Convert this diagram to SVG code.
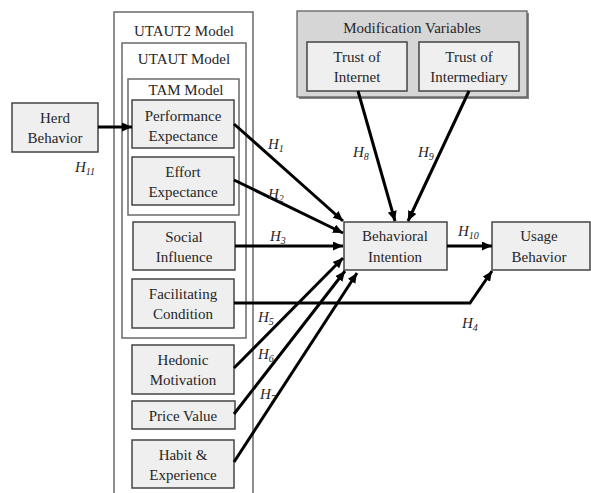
<svg xmlns="http://www.w3.org/2000/svg" width="591" height="493" viewBox="0 0 591 493">
<style>
.bx{fill:#efefef;stroke:#444;stroke-width:1.5}
.frame{fill:none;stroke:#6a6a6a;stroke-width:1.5}
text{font-family:"Liberation Serif","DejaVu Serif",serif;font-size:15px;fill:#262626;text-anchor:middle}
.h{font-style:italic;font-size:15px;text-anchor:start}
.s{font-size:10px}
.c{fill:none;stroke:#000;stroke-width:3;marker-end:url(#ah)}
</style>
<defs>
<marker id="ah" markerUnits="userSpaceOnUse" markerWidth="11" markerHeight="9" refX="10" refY="4.5" orient="auto">
<path d="M0,0 L10,4.5 L0,9 z" fill="#000"/>
</marker>
</defs>
<rect width="591" height="493" fill="#fff"/>
<g font-family="Liberation Serif, serif">
<g id="utaut2">
<rect class="frame" x="114" y="12" width="139" height="495"/>
<text x="184" y="36">UTAUT2 Model</text>
</g>
<g id="utaut">
<rect class="frame" x="122" y="43" width="124" height="295"/>
<text x="184" y="64">UTAUT Model</text>
</g>
<g id="tam">
<rect class="frame" x="128" y="79" width="111" height="136"/>
<text x="186" y="95">TAM Model</text>
</g>
<g id="modvars">
<rect x="299" y="13" width="230" height="86" fill="#888"/>
<rect x="297" y="11" width="230" height="86" fill="#d6d6d6" stroke="#555" stroke-width="1.2"/>
<text x="412" y="33">Modification Variables</text>
</g>
<g id="trust-internet">
<rect class="bx" x="307" y="42" width="100" height="49"/>
<text x="357" y="62">Trust of</text>
<text x="357" y="82">Internet</text>
</g>
<g id="trust-intermediary">
<rect class="bx" x="419" y="42" width="100" height="49"/>
<text x="469" y="62">Trust of</text>
<text x="469" y="82">Intermediary</text>
</g>
<g id="herd">
<rect class="bx" x="12" y="103" width="86" height="49"/>
<text x="55" y="123">Herd</text>
<text x="55" y="143">Behavior</text>
</g>
<g id="pe">
<rect class="bx" x="132" y="100" width="102" height="48"/>
<text x="183" y="121">Performance</text>
<text x="183" y="141">Expectance</text>
</g>
<g id="ee">
<rect class="bx" x="132" y="157" width="102" height="48"/>
<text x="183" y="177">Effort</text>
<text x="183" y="197">Expectance</text>
</g>
<g id="si">
<rect class="bx" x="133" y="222" width="102" height="48"/>
<text x="184" y="242">Social</text>
<text x="184" y="262">Influence</text>
</g>
<g id="fc">
<rect class="bx" x="132" y="279" width="102" height="49"/>
<text x="183" y="299">Facilitating</text>
<text x="183" y="319">Condition</text>
</g>
<g id="hm">
<rect class="bx" x="132" y="345" width="102" height="49"/>
<text x="183" y="365">Hedonic</text>
<text x="183" y="385">Motivation</text>
</g>
<g id="pv">
<rect class="bx" x="132" y="401" width="103" height="28"/>
<text x="183" y="421">Price Value</text>
</g>
<g id="he">
<rect class="bx" x="132" y="440" width="102" height="48"/>
<text x="183" y="460">Habit &amp;</text>
<text x="183" y="480">Experience</text>
</g>
<g id="bi">
<rect class="bx" x="344" y="222" width="103" height="48"/>
<text x="395" y="241">Behavioral</text>
<text x="395" y="262">Intention</text>
</g>
<g id="ub">
<rect class="bx" x="492" y="222" width="98" height="48"/>
<text x="539" y="241">Usage</text>
<text x="539" y="262">Behavior</text>
</g>
<g id="connectors">
<line class="c" x1="98" y1="127" x2="132" y2="127"/>
<line class="c" x1="234" y1="124" x2="343" y2="221"/>
<line class="c" x1="234" y1="180" x2="343" y2="233"/>
<line class="c" x1="235" y1="246" x2="343" y2="246"/>
<polyline class="c" points="234,303 470,303 492,271"/>
<line class="c" x1="234" y1="368" x2="343" y2="258"/>
<line class="c" x1="234" y1="414" x2="345" y2="271"/>
<line class="c" x1="234" y1="462" x2="357" y2="273"/>
<line class="c" x1="358" y1="91" x2="395" y2="221"/>
<line class="c" x1="469" y1="91" x2="408" y2="221"/>
<line class="c" x1="447" y1="246" x2="492" y2="246"/>
</g>
<g id="labels">
<text class="h" x="75" y="172">H<tspan class="s" dy="3">11</tspan></text>
<text class="h" x="268" y="149">H<tspan class="s" dy="3">1</tspan></text>
<text class="h" x="268" y="199">H<tspan class="s" dy="3">2</tspan></text>
<text class="h" x="270" y="241">H<tspan class="s" dy="3">3</tspan></text>
<text class="h" x="462" y="328">H<tspan class="s" dy="3">4</tspan></text>
<text class="h" x="258" y="322">H<tspan class="s" dy="3">5</tspan></text>
<text class="h" x="258" y="359">H<tspan class="s" dy="3">6</tspan></text>
<text class="h" x="260" y="399">H<tspan class="s" dy="3">7</tspan></text>
<text class="h" x="353" y="157">H<tspan class="s" dy="3">8</tspan></text>
<text class="h" x="418" y="157">H<tspan class="s" dy="3">9</tspan></text>
<text class="h" x="458" y="236">H<tspan class="s" dy="3">10</tspan></text>
</g>
</g>
</svg>
